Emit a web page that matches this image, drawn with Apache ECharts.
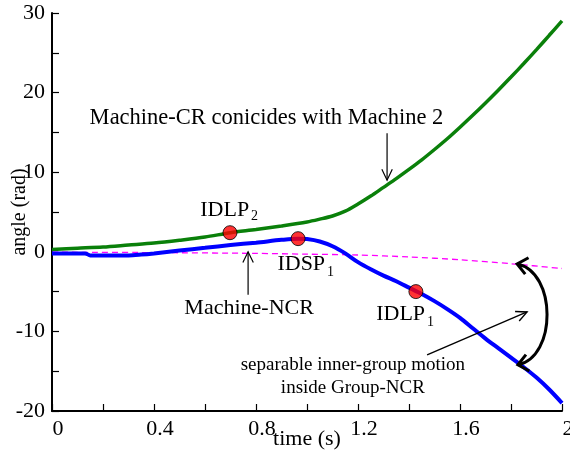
<!DOCTYPE html>
<html>
<head>
<meta charset="utf-8">
<script src="https://cdn.jsdelivr.net/npm/echarts@6/dist/echarts.min.js"></script>
<style>
html,body{margin:0;padding:0;background:#fff;}
#c{width:570px;height:457px;}
</style>
</head>
<body>
<div id="c"></div>
<script>
// ---- data (time in s, angle in rad) ----
const greenT = [0,0.1,0.2,0.3,0.4,0.5,0.6,0.7,0.8,0.9,1.0,1.05,1.1,1.15,1.2,1.25,1.3,1.35,1.4,1.45,1.5,1.55,1.6,1.65,1.7,1.75,1.8,1.85,1.9,1.95,2.0];
const greenV = [0.3,0.45,0.6,0.85,1.1,1.45,1.85,2.4,2.8,3.25,3.75,4.1,4.5,5.1,6.0,7.0,8.1,9.2,10.35,11.55,12.85,14.2,15.65,17.15,18.7,20.3,21.95,23.65,25.4,27.2,29.0];

const blueT = [0,0.13,0.15,0.3,0.35,0.4,0.5,0.6,0.7,0.8,0.9,0.965,1.0,1.05,1.1,1.15,1.2,1.25,1.3,1.35,1.4,1.45,1.5,1.55,1.6,1.65,1.7,1.75,1.8,1.85,1.9,1.95,2.0];
const blueV = [-0.2,-0.2,-0.45,-0.45,-0.35,-0.2,0.15,0.5,0.85,1.15,1.5,1.65,1.6,1.3,0.7,-0.2,-1.3,-2.2,-3.0,-3.7,-4.5,-5.3,-6.2,-7.2,-8.3,-9.6,-10.9,-12.1,-13.3,-14.5,-15.8,-17.3,-19.0];

const pinkT = [0,0.4,0.8,1.0,1.2,1.4,1.6,1.8,2.0];
const pinkV = [-0.05,-0.1,-0.2,-0.3,-0.4,-0.65,-1.0,-1.5,-2.1];

const pointNames = ['IDLP2','IDSP1','IDLP1'];
const pointT = [0.698,0.965,1.427];
const pointV = [2.4,1.65,-5.0];

const xTicks = [0,0.4,0.8,1.2,1.6,2];
const xTickLabels = ['0','0.4','0.8','1.2','1.6','2'];
const yTicks = [-20,-10,0,10,20,30];
const yTickLabels = ['-20','-10','0','10','20','30'];

const zip = (a,b) => a.map((v,i)=>[v,b[i]]);

const FONT = '"Liberation Serif","Times New Roman",serif';
const chart = echarts.init(document.getElementById('c'), null, {renderer:'canvas'});

const axisCommon = {
  axisLine:{show:true, onZero:false, lineStyle:{color:'#000', width:2}},
  axisTick:{show:true, inside:true, length:7, lineStyle:{color:'#000', width:1.2}},
  minorTick:{show:true, splitNumber:2, length:7, lineStyle:{color:'#000', width:1.2}},
  splitLine:{show:false},
  minorSplitLine:{show:false},
  nameMoveOverlap:false
};

chart.setOption({
  animation:false,
  backgroundColor:'#fff',
  grid:{left:52, right:8, top:13, bottom:46, containLabel:false, outerBoundsMode:'none'},
  xAxis:Object.assign({
    type:'value', min:0, max:2, interval:0.4,
    name:'time (s)', nameLocation:'middle', nameGap:17,
    nameTextStyle:{fontFamily:FONT, fontSize:22, color:'#000'},
    axisLabel:{fontFamily:FONT, fontSize:22, color:'#000', margin:7, padding:[0,0,0,12], hideOverlap:false,
      formatter:(v)=>{const i=xTicks.findIndex(t=>Math.abs(t-v)<1e-6); return i>=0?xTickLabels[i]:'';}}
  }, axisCommon),
  yAxis:Object.assign({
    type:'value', min:-20, max:30, interval:10,
    name:'angle (rad)', nameLocation:'middle', nameGap:22, nameRotate:90,
    nameTextStyle:{fontFamily:FONT, fontSize:20, color:'#000'},
    axisLabel:{fontFamily:FONT, fontSize:22, color:'#000', margin:7, hideOverlap:false,
      formatter:(v)=>{const i=yTicks.findIndex(t=>Math.abs(t-v)<1e-6); return i>=0?yTickLabels[i]:'';}}
  }, axisCommon),
  series:[
    {type:'line', name:'pink', data:zip(pinkT,pinkV), showSymbol:false, smooth:0.3,
      lineStyle:{color:'#ff00ff', width:1.3, type:[6,4]}, z:2},
    {type:'line', name:'Machine-CR', data:zip(greenT,greenV), showSymbol:false, smooth:0.3,
      lineStyle:{color:'#0a800a', width:3.5}, z:3},
    {type:'line', name:'Machine-NCR', data:zip(blueT,blueV), showSymbol:false, smooth:0.3,
      lineStyle:{color:'#0000ff', width:4}, z:4},
    {type:'scatter', name:'points', data:pointT.map((t,i)=>({name:pointNames[i], value:[t,pointV[i]]})),
      symbol:'circle', symbolSize:14,
      itemStyle:{color:'#ff0000', borderColor:'#000', borderWidth:1}, z:6}
  ]
});

// ---- annotations (positions in data units) ----
const P = (t,v) => chart.convertToPixel({gridIndex:0}, [t,v]);
const g = [];
function text(t,v,str,size,align,valign){
  const p = P(t,v);
  g.push({type:'text', x:p[0], y:p[1], z:10,
    style:{text:str, fill:'#000', font:size+'px '+FONT, align:align||'center', verticalAlign:valign||'middle'}});
}
function head(tip, dx, dy, len, ang, w){
  const L = Math.hypot(dx,dy); const ux=dx/L, uy=dy/L;
  const bx=-ux, by=-uy;
  const c=Math.cos(ang), s=Math.sin(ang);
  const a1=[tip[0]+len*(bx*c-by*s), tip[1]+len*(bx*s+by*c)];
  const a2=[tip[0]+len*(bx*c+by*s), tip[1]+len*(-bx*s+by*c)];
  g.push({type:'polyline', z:10, shape:{points:[a1,tip,a2]}, style:{stroke:'#000', lineWidth:w, fill:null}});
}
function arrow(t1,v1,t2,v2,w){
  const a=P(t1,v1), b=P(t2,v2);
  g.push({type:'line', z:10, shape:{x1:a[0],y1:a[1],x2:b[0],y2:b[1]}, style:{stroke:'#000', lineWidth:w}});
  head(b, b[0]-a[0], b[1]-a[1], 12, 0.45, w);
}

text(0.841, 16.8, 'Machine-CR conicides with Machine 2', 22.5);
arrow(1.314, 14.9, 1.314, 9.0, 1.2);

text(0.773, 5.25, 'IDLP', 22, 'right');
text(0.780, 4.5, '2', 14, 'left');
text(1.071, -1.53, 'IDSP', 22, 'right');
text(1.078, -2.54, '1', 14, 'left');
text(1.463, -7.9, 'IDLP', 22, 'right');
text(1.471, -8.8, '1', 14, 'left');

text(0.773, -7.1, 'Machine-NCR', 22);
arrow(0.769, -5.4, 0.769, 0.0, 1.2);

text(1.18, -14.2, 'separable inner-group motion', 19);
text(1.18, -17.1, 'inside Group-NCR', 19);
arrow(1.471, -12.95, 1.863, -7.56, 1.4);

// curved double arrow
(function(){
  const s=P(1.824,-1.53), e=P(1.827,-14.2), c1=P(1.980,-2.54), c2=P(1.980,-13.2);
  g.push({type:'bezierCurve', z:10, shape:{x1:s[0],y1:s[1],x2:e[0],y2:e[1],cpx1:c1[0],cpy1:c1[1],cpx2:c2[0],cpy2:c2[1]},
    style:{stroke:'#000', lineWidth:3, fill:null}});
  head(s, s[0]-c1[0], s[1]-c1[1], 13, 0.7, 3);
  head(e, e[0]-c2[0], e[1]-c2[1], 13, 0.7, 3);
})();

chart.setOption({graphic:g});
</script>
</body>
</html>
